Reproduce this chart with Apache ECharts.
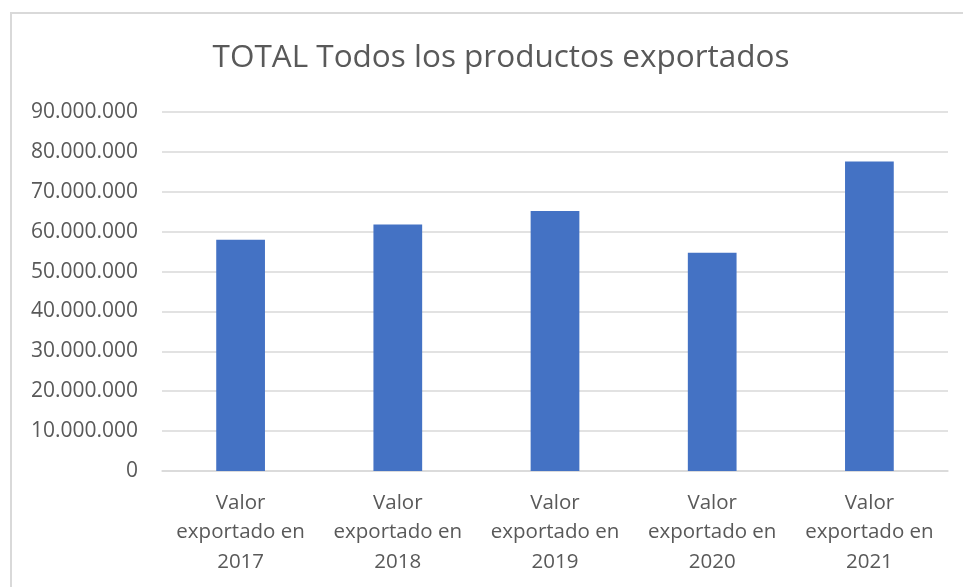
<!DOCTYPE html>
<html>
<head>
<meta charset="utf-8">
<script src="https://cdn.jsdelivr.net/npm/echarts@6/dist/echarts.min.js"></script>
<style>
html,body{margin:0;padding:0;background:#fff;}
#frame{position:absolute;left:10px;top:12px;width:960px;height:600px;border:2px solid #d9d9d9;box-sizing:border-box;}
#c{position:absolute;left:0;top:0;width:963px;height:587px;}
</style>
</head>
<body>
<div id="frame"></div>
<div id="c"></div>
<script>
const title = 'TOTAL Todos los productos exportados';
const categories = ['Valor\nexportado en\n2017','Valor\nexportado en\n2018','Valor\nexportado en\n2019','Valor\nexportado en\n2020','Valor\nexportado en\n2021'];
const values = [58000000, 61800000, 65200000, 54700000, 77600000];
const yMin = 0, yMax = 90000000, yStep = 10000000;

const fmt = v => String(Math.round(v)).replace(/\B(?=(\d{3})+(?!\d))/g, '.');
const chart = echarts.init(document.getElementById('c'));
const font = "'Open Sans', 'Liberation Sans', sans-serif";
chart.setOption({
  animation: false,
  title: {
    text: title, left: 496, textAlign: 'center', top: 37,
    textStyle: {fontFamily: font, fontSize: 31.5, fontWeight: 'normal', color: '#595959'}
  },
  grid: {left: 162, right: 15, top: 112, bottom: 116},
  xAxis: {
    type: 'category', data: categories,
    axisLine: {lineStyle: {color: '#d9d9d9', width: 1.5}},
    axisTick: {show: false},
    axisLabel: {fontFamily: font, fontSize: 20.5, color: '#595959', lineHeight: 29.5, margin: 17, interval: 0}
  },
  yAxis: {
    type: 'value', min: yMin, max: yMax, interval: yStep,
    axisLine: {show: false}, axisTick: {show: false},
    splitLine: {lineStyle: {color: '#d9d9d9', width: 1.5}},
    axisLabel: {fontFamily: font, fontSize: 21, color: '#595959', margin: 24, formatter: fmt}
  },
  series: [{
    type: 'bar', data: values, barWidth: '31%',
    itemStyle: {color: '#4472C4'}
  }]
});
</script>
</body>
</html>
